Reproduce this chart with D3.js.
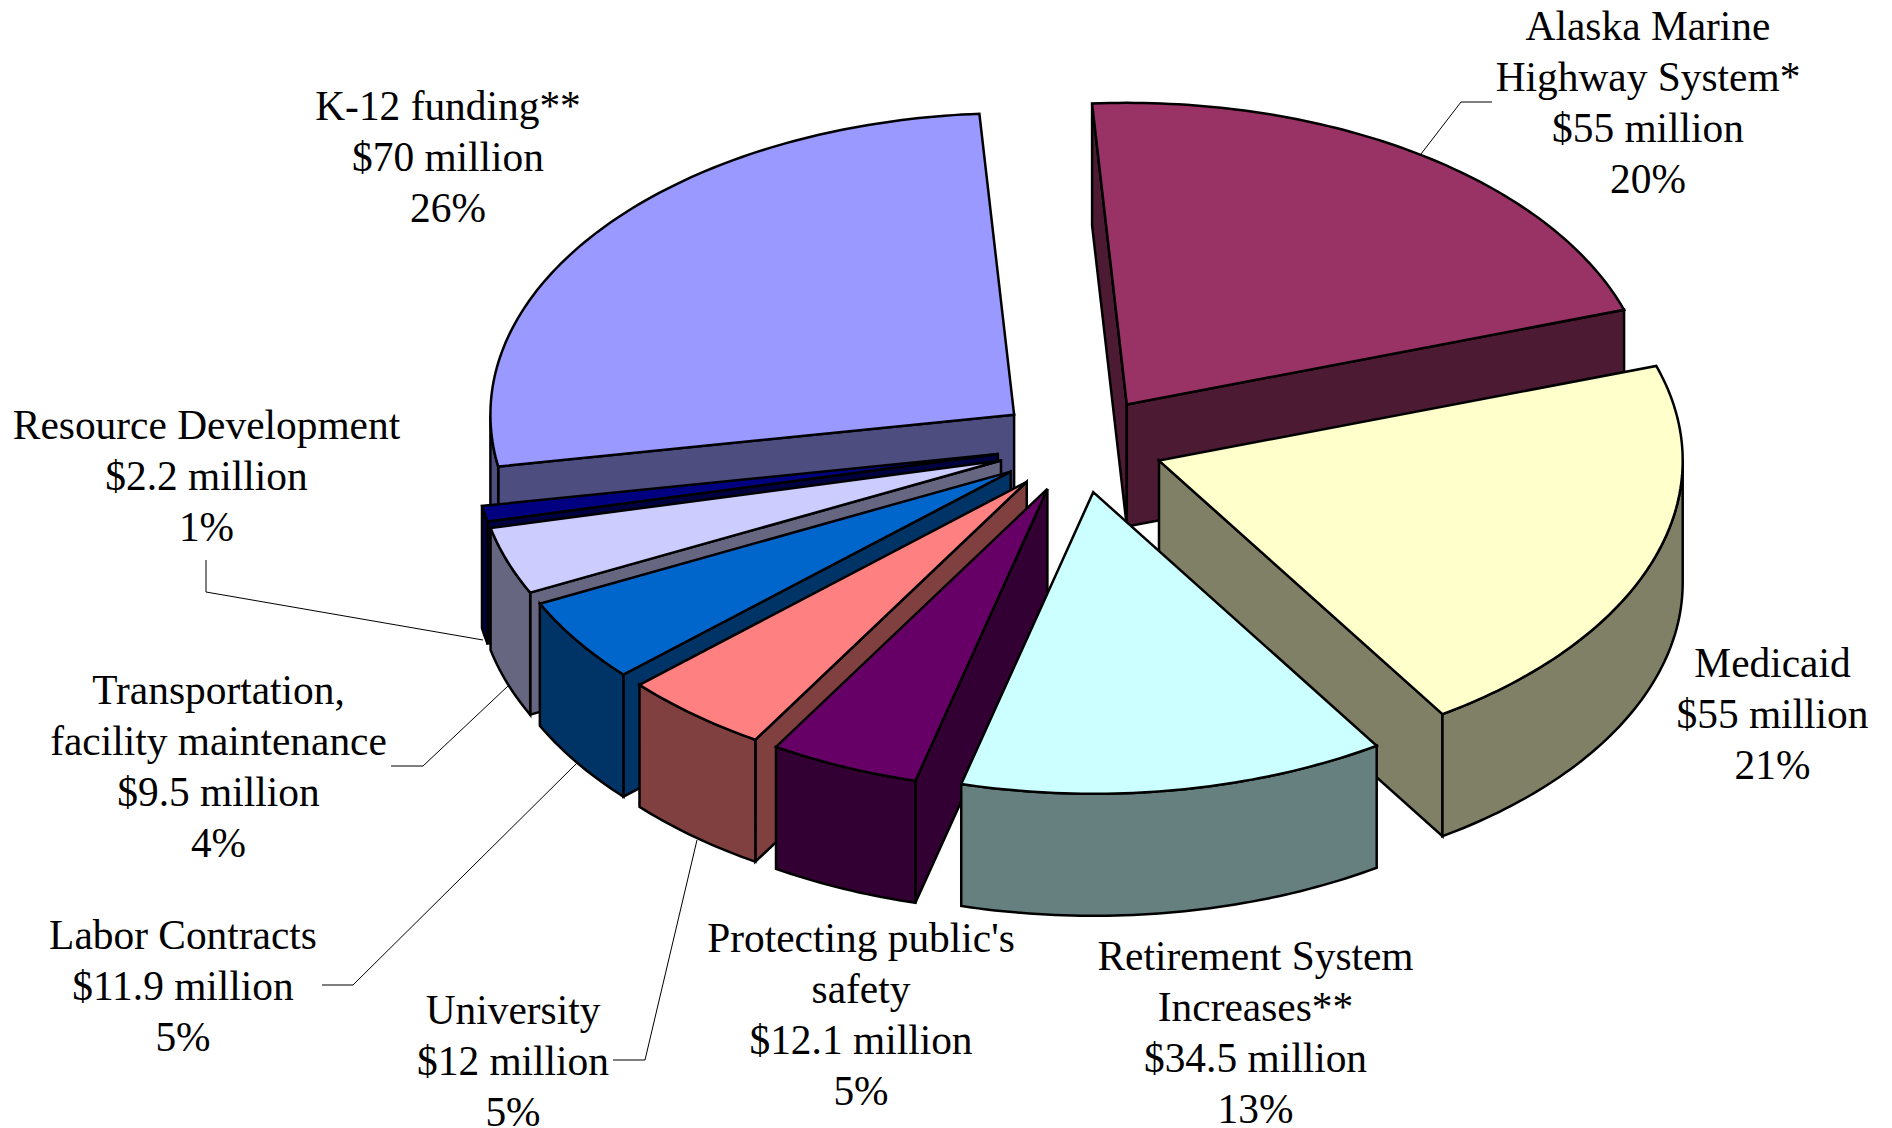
<!DOCTYPE html>
<html>
<head>
<meta charset="utf-8">
<script src="https://cdn.jsdelivr.net/npm/d3@7"></script>
<style>
  html, body { margin: 0; padding: 0; background: #fff; }
  svg { display: block; }
  text { font-family: "Liberation Serif", serif; font-size: 41.4px; fill: #000; text-anchor: middle; }
</style>
</head>
<body>
<div id="chart"></div>
<script>
// chart data
const categories = [
  ["Alaska Marine", "Highway System*"],
  ["Medicaid"],
  ["Retirement System", "Increases**"],
  ["Protecting public's", "safety"],
  ["University"],
  ["Labor Contracts"],
  ["Transportation,", "facility maintenance"],
  ["Resource Development"],
  ["K-12 funding**"]
];
const amounts = [55, 55, 34.5, 12.1, 12, 11.9, 9.5, 2.2, 70];
const percents = ["20%", "21%", "13%", "5%", "5%", "5%", "4%", "1%", "26%"];
const topColors = ["#993366", "#FFFFCC", "#CCFFFF", "#660066", "#FF8080", "#0066CC", "#CCCCFF", "#000080", "#9999FF"];

// label placement: centre x and first baseline
const labelSpots = [
  [1648, 39.5], [1772.5, 676.5], [1255.5, 969.5], [861, 951.5],
  [513, 1023.5], [183, 948.5], [218.5, 703.5], [206.5, 438.5], [448, 119.5]
];
// leader lines go label -> elbow -> slice
const leaders = [
  [[1492, 102], [1461, 102], [1421, 154]],
  [[206, 560], [206, 592], [483, 640]],
  [[391, 766], [423, 766], [508, 686]],
  [[322, 985], [353, 985], [577, 763]],
  [[613, 1060], [645, 1060], [697, 840]]
];

const width = 1892, height = 1128;
const cx = 1080, cy = 444.5;   // pie centre before the slices are pulled out
const rx = 523.7, ry = 301.6;  // squashed circle
const depth = 122;
const explode = 0.16;
const startDeg = -3.8;

const svg = d3.select("#chart").append("svg")
  .attr("width", width)
  .attr("height", height);

const lineGen = d3.line();

// angle goes clockwise from 12 o'clock, same as d3.pie
function rim(a, apex, drop) {
  return [apex[0] + rx * Math.sin(a), apex[1] - ry * Math.cos(a) + drop];
}
function arcPoints(a0, a1, apex, drop) {
  const n = Math.max(2, Math.ceil((a1 - a0) * 60));
  return d3.range(n + 1).map(i => rim(a0 + (a1 - a0) * i / n, apex, drop));
}

const startAngle = startDeg * Math.PI / 180;
const pie = d3.pie().sort(null).startAngle(startAngle).endAngle(startAngle + 2 * Math.PI);

const slices = pie(amounts).map(d => {
  const mid = (d.startAngle + d.endAngle) / 2;
  const c = d3.rgb(topColors[d.index]);
  return {
    a0: d.startAngle,
    a1: d.endAngle,
    mid: mid,
    color: topColors[d.index],
    // sides are the top colour at half brightness
    side: d3.rgb(c.r / 2, c.g / 2, c.b / 2).formatHex(),
    apex: [cx + explode * rx * Math.sin(mid), cy - explode * ry * Math.cos(mid)]
  };
});

// leaders sit underneath the slices
svg.append("g").selectAll("path")
  .data(leaders)
  .enter().append("path")
  .attr("d", d => lineGen(d))
  .attr("fill", "none")
  .attr("stroke", "#000")
  .attr("stroke-width", 1);

// back slices first
const order = slices.slice().sort((p, q) => Math.cos(q.mid) - Math.cos(p.mid));

const groups = svg.append("g").selectAll("g")
  .data(order)
  .enter().append("g")
  .attr("stroke", "#000")
  .attr("stroke-width", 2.5)
  .attr("stroke-linejoin", "miter");

groups.each(function (s) {
  const g = d3.select(this);

  function radialFace(a) {
    const outer = rim(a, s.apex, 0);
    const pts = [s.apex, outer, [outer[0], outer[1] + depth], [s.apex[0], s.apex[1] + depth]];
    g.append("path").attr("d", lineGen(pts) + "Z").attr("fill", s.side);
  }
  // cut faces only show when they turn toward the viewer
  if (Math.sin(s.a0) < 0) radialFace(s.a0);
  if (Math.sin(s.a1) > 0) radialFace(s.a1);

  // outer wall: front half of the rim only
  const w0 = Math.max(s.a0, Math.PI / 2);
  const w1 = Math.min(s.a1, 3 * Math.PI / 2);
  if (w1 > w0) {
    const upper = arcPoints(w0, w1, s.apex, 0);
    const lower = arcPoints(w0, w1, s.apex, depth).reverse();
    g.append("path").attr("d", lineGen(upper.concat(lower)) + "Z").attr("fill", s.side);
  }

  const topPts = [s.apex].concat(arcPoints(s.a0, s.a1, s.apex, 0));
  g.append("path").attr("d", lineGen(topPts) + "Z").attr("fill", s.color);
});

// labels
const labels = svg.append("g").selectAll("text")
  .data(categories.map((name, i) => ({
    lines: name.concat(["$" + amounts[i] + " million", percents[i]]),
    spot: labelSpots[i]
  })))
  .enter().append("text")
  .attr("transform", d => `translate(${d.spot[0]},${d.spot[1]})`);

labels.selectAll("tspan")
  .data(d => d.lines)
  .enter().append("tspan")
  .attr("x", 0)
  .attr("y", (d, i) => i * 51)
  .text(d => d);
</script>
</body>
</html>
